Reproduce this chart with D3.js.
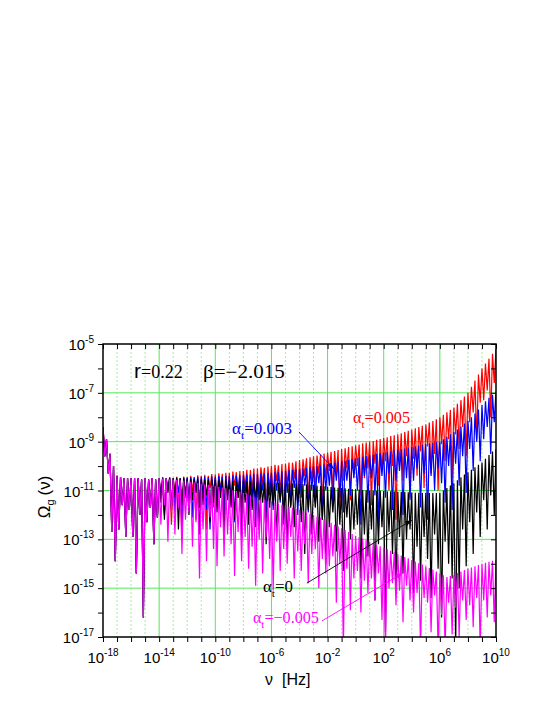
<!DOCTYPE html>
<html>
<head>
<meta charset="utf-8">
<script src="https://cdn.jsdelivr.net/npm/d3@7"></script>
<style>
  body { margin: 0; background: #fff; }
  svg { display: block; }
</style>
</head>
<body>
<div id="chart"></div>
<script>
// frequency sampling: log10(nu) starts at -18, one sample every 1/8 decade
const nuStart = -18, nuStep = 0.125;

// tick labels (log10 values)
const xTickExp = [-18, -14, -10, -6, -2, 2, 6, 10];
const yTickExp = [-17, -15, -13, -11, -9, -7, -5];

// the curves all coincide below nu = 1e-14
const lowBand = [
  -8.4, -9.6, -8.9, -10.3, -9.5, -12.7, -10.0, -13.9,
  -10.4, -12.6, -10.45, -11.6, -10.5, -12.9, -10.5, -11.8,
  -10.5, -12.9, -10.5, -14.4, -10.5, -12.0, -10.55, -16.2,
  -10.5, -12.3, -10.55, -11.7, -10.5, -13.2, -10.55, -12.1
];

// alpha_t = 0.005, nu = 1e-14 .. 1e10
const redTail = [
  -10.5, -11.2, -10.45, -11.9, -10.5, -10.9, -10.47, -12.4,
  -10.48, -11.1, -10.44, -11.6, -10.5, -13.0, -10.43, -11.3,
  -10.45, -11.8, -10.4, -11.0, -10.45, -12.2, -10.38, -11.5,
  -10.4, -11.3, -10.36, -12.6, -10.4, -10.9, -10.33, -11.7,
  -10.35, -11.4, -10.3, -11.0, -10.32, -12.0, -10.27, -11.2,
  -10.28, -11.6, -10.22, -10.8, -10.25, -11.3, -10.2, -12.5,
  -10.2, -10.9, -10.15, -11.5, -10.16, -11.0, -10.1, -11.8,
  -10.1, -11.2, -10.05, -10.7, -10.07, -12.1, -10.02, -11.0,
  -10.0, -11.4, -9.95, -10.6, -9.97, -11.1, -9.92, -12.3,
  -9.9, -10.8, -9.85, -11.3, -9.86, -10.5, -9.8, -11.6,
  -9.75, -10.9, -9.72, -10.4, -9.68, -11.5, -9.64, -10.6,
  -9.6, -11.0, -9.57, -10.3, -9.53, -11.8, -9.49, -10.5,
  -9.45, -10.2, -9.42, -11.1, -9.38, -10.4, -9.34, -12.0,
  -9.3, -10.6, -9.27, -10.1, -9.22, -11.4, -9.19, -10.3,
  -9.15, -10.0, -9.12, -11.2, -9.07, -10.5, -9.04, -10.1,
  -9.0, -11.6, -8.97, -9.9, -8.92, -10.8, -8.89, -10.2,
  -8.85, -9.8, -8.82, -11.0, -8.77, -10.0, -8.74, -12.2,
  -8.7, -9.9, -8.66, -10.6, -8.6, -9.6, -8.55, -11.3,
  -8.5, -9.7, -8.45, -10.4, -8.4, -9.4, -8.35, -10.9,
  -8.3, -9.2, -8.22, -10.3, -8.15, -9.5, -8.08, -11.0,
  -8.0, -9.1, -7.9, -9.8, -7.8, -8.9, -7.7, -10.5,
  -7.6, -8.7, -7.45, -9.3, -7.3, -8.4, -7.15, -9.6,
  -7.0, -8.2, -6.75, -7.8, -6.5, -8.9, -6.25, -7.4,
  -6.0, -7.3, -5.8, -6.9, -5.6, -8.0, -5.4, -6.6,
  -5.2
];

// alpha_t = 0.003
const blueTail = [
  -10.5, -11.3, -10.48, -12.0, -10.5, -11.0, -10.47, -11.6,
  -10.5, -11.9, -10.46, -11.1, -10.5, -12.5, -10.47, -11.2,
  -10.48, -11.4, -10.45, -12.1, -10.47, -11.0, -10.44, -11.7,
  -10.46, -11.2, -10.43, -11.8, -10.45, -12.6, -10.42, -11.1,
  -10.44, -11.6, -10.41, -11.0, -10.43, -12.0, -10.4, -11.3,
  -10.42, -11.5, -10.39, -12.3, -10.4, -11.0, -10.37, -11.7,
  -10.38, -11.1, -10.35, -11.9, -10.36, -11.3, -10.33, -12.5,
  -10.33, -11.4, -10.3, -11.0, -10.31, -12.1, -10.28, -11.2,
  -10.27, -11.8, -10.24, -11.0, -10.25, -11.5, -10.21, -12.4,
  -10.2, -11.1, -10.17, -11.6, -10.16, -10.9, -10.13, -12.0,
  -10.12, -11.3, -10.09, -10.8, -10.07, -11.9, -10.04, -11.0,
  -10.02, -11.5, -10.0, -10.7, -9.97, -12.2, -9.94, -11.0,
  -9.92, -10.8, -9.89, -11.6, -9.86, -10.6, -9.83, -11.3,
  -9.8, -11.9, -9.77, -10.6, -9.74, -11.2, -9.71, -10.5,
  -9.68, -11.0, -9.65, -12.4, -9.62, -10.4, -9.59, -11.5,
  -9.56, -10.5, -9.53, -11.2, -9.5, -12.6, -9.47, -10.4,
  -9.45, -11.3, -9.42, -10.3, -9.39, -11.8, -9.36, -10.6,
  -9.34, -10.2, -9.31, -12.0, -9.28, -10.5, -9.25, -11.4,
  -9.22, -10.6, -9.19, -10.1, -9.16, -11.7, -9.13, -10.3,
  -9.1, -12.2, -9.07, -10.4, -9.05, -11.0, -9.02, -10.1,
  -9.0, -10.7, -8.9, -11.5, -8.8, -10.0, -8.7, -11.8,
  -8.6, -9.9, -8.5, -10.8, -8.38, -9.6, -8.26, -11.1,
  -8.15, -9.3, -8.0, -10.2, -7.85, -9.0, -7.68, -9.8,
  -7.5, -8.9, -7.35, -8.4, -7.2, -9.5, -7.08, -8.2,
  -6.95
];

// alpha_t = 0
const blackTail = [
  -10.5, -11.5, -10.5, -12.2, -10.5, -11.1, -10.48, -11.8,
  -10.5, -11.3, -10.49, -12.6, -10.5, -11.6, -10.5, -11.2,
  -10.52, -12.0, -10.52, -11.4, -10.53, -11.1, -10.54, -12.8,
  -10.55, -11.6, -10.55, -11.2, -10.56, -12.3, -10.56, -11.5,
  -10.57, -11.9, -10.58, -11.3, -10.58, -12.9, -10.59, -11.4,
  -10.6, -11.7, -10.6, -12.2, -10.61, -11.3, -10.61, -13.0,
  -10.62, -11.5, -10.63, -12.4, -10.63, -11.8, -10.64, -11.3,
  -10.65, -12.6, -10.66, -11.5, -10.66, -13.2, -10.67, -11.7,
  -10.68, -11.6, -10.69, -12.9, -10.69, -11.4, -10.7, -12.2,
  -10.7, -13.4, -10.7, -11.7, -10.71, -12.5, -10.71, -11.5,
  -10.72, -12.3, -10.74, -13.6, -10.75, -11.8, -10.77, -12.8,
  -10.78, -11.7, -10.8, -13.1, -10.82, -12.2, -10.83, -14.0,
  -10.85, -12.5, -10.86, -11.9, -10.88, -13.5, -10.89, -12.4,
  -10.9, -14.3, -10.91, -12.1, -10.93, -13.0, -10.94, -12.6,
  -10.95, -12.4, -10.96, -14.6, -10.98, -12.8, -10.99, -13.7,
  -11.0, -12.6, -11.0, -15.5, -11.01, -13.2, -11.01, -12.5,
  -11.02, -16.8, -11.03, -12.7, -11.03, -13.6, -11.04, -15.1,
  -11.05, -12.9, -11.06, -14.4, -11.06, -13.0, -11.07, -12.6,
  -11.08, -15.2, -11.09, -13.3, -11.09, -14.7, -11.1, -12.9,
  -11.1, -13.8, -11.1, -15.4, -11.1, -12.8, -11.1, -14.2,
  -11.1, -16.2, -11.0, -13.1, -10.9, -14.0, -10.8, -14.6,
  -10.7, -17.5, -10.58, -15.0, -10.46, -12.6, -10.35, -14.1,
  -10.25, -12.3, -10.15, -13.6, -10.05, -11.9, -9.95, -12.9,
  -9.85, -11.4, -9.7, -12.6, -9.55, -11.2, -9.4, -12.0,
  -9.3
];

// alpha_t = -0.005
const magentaTail = [
  -10.5, -12.4, -10.52, -11.6, -10.5, -13.1, -10.54, -11.9,
  -10.55, -12.8, -10.56, -11.7, -10.58, -13.6, -10.6, -12.2,
  -10.62, -11.9, -10.64, -13.3, -10.66, -12.3, -10.69, -14.6,
  -10.72, -12.6, -10.74, -13.9, -10.77, -12.1, -10.79, -13.4,
  -10.82, -14.1, -10.85, -12.5, -10.88, -13.7, -10.91, -12.8,
  -10.95, -13.2, -10.99, -14.5, -11.02, -12.7, -11.06, -13.9,
  -11.1, -12.9, -11.15, -14.2, -11.2, -13.3, -11.25, -14.9,
  -11.3, -13.0, -11.34, -14.4, -11.38, -12.9, -11.42, -13.8,
  -11.45, -15.1, -11.49, -13.1, -11.54, -14.3, -11.58, -13.4,
  -11.62, -14.0, -11.66, -12.9, -11.71, -14.6, -11.75, -13.5,
  -11.8, -14.3, -11.85, -13.2, -11.9, -14.8, -11.95, -13.6,
  -12.0, -13.4, -12.06, -15.0, -12.12, -13.8, -12.18, -14.4,
  -12.25, -14.1, -12.32, -13.7, -12.4, -15.6, -12.47, -14.0,
  -12.55, -17.5, -12.62, -14.2, -12.7, -15.9, -12.78, -14.6,
  -12.85, -14.3, -12.91, -16.0, -12.97, -14.7, -13.03, -15.2,
  -13.1, -14.6, -13.16, -15.5, -13.22, -14.4, -13.28, -16.3,
  -13.35, -17.5, -13.41, -15.0, -13.47, -14.8, -13.53, -15.7,
  -13.6, -15.1, -13.66, -16.4, -13.72, -14.9, -13.78, -15.5,
  -13.85, -16.0, -13.91, -15.2, -13.97, -17.5, -14.03, -15.4,
  -14.1, -15.6, -14.17, -16.8, -14.24, -15.3, -14.32, -17.5,
  -14.4, -16.1, -14.47, -17.5, -14.54, -15.6, -14.5, -16.9,
  -14.45, -15.8, -14.38, -17.0, -14.32, -15.5, -14.26, -16.3,
  -14.2, -15.7, -14.15, -16.6, -14.1, -15.4, -14.05, -17.5,
  -14.0, -15.5, -13.96, -16.2, -13.92, -15.3, -13.88, -16.4,
  -13.85
];

// drawing order: red first, magenta on top
const series = [
  { name: "0.005", color: "#ff0000", tail: redTail },
  { name: "0.003", color: "#0000ff", tail: blueTail },
  { name: "0", color: "#000000", tail: blackTail },
  { name: "-0.005", color: "#ff00ff", tail: magentaTail }
];

let svgWidth = 545, svgHeight = 705;
let margin = { top: 344, right: 49, bottom: 68, left: 103 };

let svg = d3.select("#chart")
  .append("svg")
  .attr("width", svgWidth)
  .attr("height", svgHeight),
  width = svgWidth - margin.left - margin.right,
  height = svgHeight - margin.top - margin.bottom,
  chartGroup = svg.append("g")
    .attr("transform", `translate(${margin.left}, ${margin.top})`);

let x = d3.scaleLog().domain([1e-18, 1e10]).range([0, width]);
let y = d3.scaleLog().domain([1e-17, 1e-5]).range([height, 0]);

const sans = "'Liberation Sans', Arial, sans-serif";
const serif = "'Liberation Serif', 'Times New Roman', serif";

// grid
let decades = d3.range(-18, 11);
chartGroup.append("g")
  .selectAll("line.vgrid")
  .data(decades.filter(e => e > -18 && e < 10))
  .enter()
  .append("line")
  .attr("x1", e => x(10 ** e)).attr("x2", e => x(10 ** e))
  .attr("y1", 0).attr("y2", height)
  .attr("stroke", e => xTickExp.includes(e) ? "#55e855" : "#8ee88e")
  .attr("stroke-width", e => xTickExp.includes(e) ? 1 : 0.8)
  .attr("stroke-dasharray", e => xTickExp.includes(e) ? null : "2,2");

chartGroup.append("g")
  .selectAll("line.hgrid")
  .data(yTickExp.filter(e => e > -17 && e < -5))
  .enter()
  .append("line")
  .attr("x1", 0).attr("x2", width)
  .attr("y1", e => y(10 ** e)).attr("y2", e => y(10 ** e))
  .attr("stroke", "#55e855")
  .attr("stroke-width", 1);

// curves
svg.append("defs").append("clipPath").attr("id", "plotClip")
  .append("rect").attr("width", width).attr("height", height);

let line = d3.line()
  .x(d => x(d.nu))
  .y(d => y(d.om));

let curves = chartGroup.append("g").attr("clip-path", "url(#plotClip)");
series.forEach(s => {
  let pts = lowBand.concat(s.tail).map((v, i) => ({
    nu: Math.pow(10, nuStart + i * nuStep),
    om: Math.pow(10, v)
  }));
  curves.append("path")
    .datum(pts)
    .attr("fill", "none")
    .attr("stroke", s.color)
    .attr("stroke-width", 1.2)
    .attr("stroke-linejoin", "miter")
    .attr("d", line);
});

// axes: outward ticks left/bottom, inward ticks top/right
let decadeVals = decades.map(e => 10 ** e);
let yDecadeVals = d3.range(-17, -4).map(e => 10 ** e);
function styleAxis(g) {
  g.select(".domain").remove();
  g.selectAll(".tick line").attr("stroke", "#000").attr("stroke-width", 1);
}
chartGroup.append("g").attr("transform", `translate(0,${height})`)
  .call(d3.axisBottom(x).tickValues(decadeVals).tickSize(5).tickFormat(""))
  .call(styleAxis);
chartGroup.append("g")
  .call(d3.axisTop(x).tickValues(decadeVals).tickSize(-5).tickFormat(""))
  .call(styleAxis);
chartGroup.append("g")
  .call(d3.axisLeft(y).tickValues(yDecadeVals).tickSize(5).tickFormat(""))
  .call(styleAxis);
chartGroup.append("g").attr("transform", `translate(${width},0)`)
  .call(d3.axisRight(y).tickValues(yDecadeVals).tickSize(-5).tickFormat(""))
  .call(styleAxis);

chartGroup.append("rect")
  .attr("width", width).attr("height", height)
  .attr("fill", "none").attr("stroke", "#000").attr("stroke-width", 1.5);

// tick labels 10^n
function powerLabel(g, px, py, exp, anchor) {
  let t = g.append("text")
    .attr("x", px).attr("y", py)
    .attr("text-anchor", anchor)
    .attr("font-family", sans)
    .attr("font-size", 15)
    .attr("fill", "#000");
  t.append("tspan").text("10");
  t.append("tspan").attr("dy", -7).attr("font-size", 10).text(exp);
}
xTickExp.forEach(e => powerLabel(chartGroup, x(10 ** e), height + 26, e, "middle"));
yTickExp.forEach(e => powerLabel(chartGroup, -9, y(10 ** e) + 6, e, "end"));

// axis titles
let yTitle = svg.append("text")
  .attr("transform", "translate(50,497) rotate(-90)")
  .attr("text-anchor", "middle")
  .attr("font-family", sans)
  .attr("font-size", 17);
yTitle.append("tspan").text("Ω");
yTitle.append("tspan").attr("dy", 4).attr("font-size", 11).text("g");
yTitle.append("tspan").attr("dy", -4).attr("dx", 4).text("(ν)");

let xTitle = svg.append("text")
  .attr("x", 265).attr("y", 685)
  .attr("font-family", sans)
  .attr("font-size", 16);
xTitle.append("tspan").text("ν");
xTitle.append("tspan").attr("dx", 9).text("[Hz]");

// parameter text
let params = chartGroup.append("text")
  .attr("x", x(10 ** -15.79)).attr("y", y(10 ** -6.39))
  .attr("fill", "#000");
params.append("tspan").attr("font-family", sans).attr("font-size", 21).text("r");
params.append("tspan").attr("font-family", serif).attr("font-size", 18).text("=0.22");
chartGroup.append("text")
  .attr("x", x(10 ** -10.88)).attr("y", y(10 ** -6.39))
  .attr("font-family", serif).attr("font-size", 18)
  .attr("textLength", 82).attr("lengthAdjust", "spacingAndGlyphs")
  .text("β=−2.015");

// curve labels with leader lines
let defs = svg.select("defs");
series.forEach(s => {
  defs.append("marker")
    .attr("id", "arrow" + s.color.slice(1))
    .attr("viewBox", "0 0 10 10")
    .attr("refX", 10).attr("refY", 5)
    .attr("markerWidth", 7).attr("markerHeight", 7)
    .attr("markerUnits", "userSpaceOnUse")
    .attr("orient", "auto")
    .append("path").attr("d", "M0,1.5 L10,5 L0,8.5 z").attr("fill", s.color);
});

const notes = [
  { color: "#ff0000", text: "=0.005", at: [-0.19, -8.24], len: 57 },
  { color: "#0000ff", text: "=0.003", at: [-8.81, -8.69], len: 60, from: [-4.04, -8.6], to: [-1.55, -10.12] },
  { color: "#000000", text: "=0", at: [-6.6, -15.16], len: 30, from: [-3.47, -14.79], to: [4.01, -12.21] },
  { color: "#ff00ff", text: "=\u22120.005", at: [-7.32, -16.43], len: 66, from: [-2.4, -16.34], to: [3.37, -14.38] }
];
notes.forEach(n => {
  let t = chartGroup.append("text")
    .attr("x", x(10 ** n.at[0])).attr("y", y(10 ** n.at[1]))
    .attr("font-family", serif).attr("font-size", 16)
    .attr("fill", n.color)
    .attr("textLength", n.len).attr("lengthAdjust", "spacingAndGlyphs");
  t.append("tspan").text("α");
  t.append("tspan").attr("dy", 5).attr("font-size", 11).text("t");
  t.append("tspan").attr("dy", -5).text(n.text);
  if (n.from) {
    chartGroup.append("line")
      .attr("x1", x(10 ** n.from[0])).attr("y1", y(10 ** n.from[1]))
      .attr("x2", x(10 ** n.to[0])).attr("y2", y(10 ** n.to[1]))
      .attr("stroke", n.color).attr("stroke-width", 0.9)
      .attr("marker-end", `url(#arrow${n.color.slice(1)})`);
  }
});
</script>
</body>
</html>
